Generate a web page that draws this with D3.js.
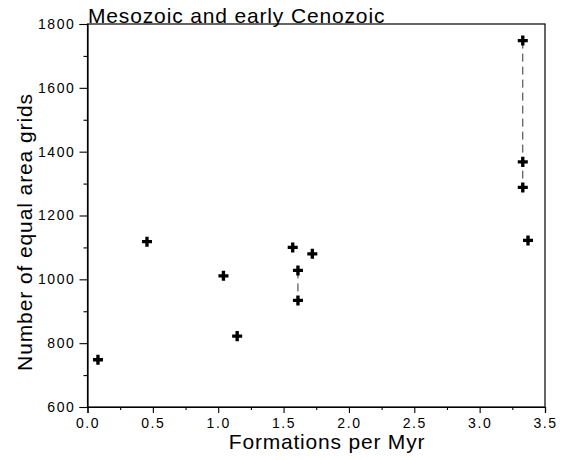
<!DOCTYPE html>
<html>
<head>
<meta charset="utf-8">
<script src="https://cdn.jsdelivr.net/npm/d3@7"></script>
<style>
  html, body { margin: 0; padding: 0; background: #fff; }
  svg { display: block; }
  text { font-family: "Liberation Sans", Arial, Helvetica, sans-serif; fill: #000; }
</style>
</head>
<body>
<svg id="chart" width="564" height="460"></svg>
<script>
// ---- data ----
const formationsPerMyr = [0.08, 0.455, 1.04, 1.145, 1.57, 1.61, 1.61, 1.72, 3.33, 3.33, 3.33, 3.37];
const equalAreaGrids   = [748, 1118, 1011, 822, 1100, 1028, 934, 1080, 1748, 1368, 1288, 1122];
// vertical ranges connecting points from the same interval
const rangeX    = [1.61, 3.33];
const rangeLow  = [934, 1288];
const rangeHigh = [1028, 1748];
const xTickValues = [0, 0.5, 1, 1.5, 2, 2.5, 3, 3.5];
const yTickValues = [600, 800, 1000, 1200, 1400, 1600, 1800];
const xMinorTicks = [0.25, 0.75, 1.25, 1.75, 2.25, 2.75, 3.25];
const yMinorTicks = [700, 900, 1100, 1300, 1500, 1700];
const chartTitle = "Mesozoic and early Cenozoic";
const xTitle = "Formations per Myr";
const yTitle = "Number of equal area grids";

// ---- layout ----
const mLeft = 87.5, mRight = 545, mTop = 24, mBottom = 407;
const svg = d3.select("#chart");
const x = d3.scaleLinear().domain([0, 3.5]).range([mLeft, mRight]);
const y = d3.scaleLinear().domain([600, 1800]).range([mBottom, mTop]);

// frame
svg.append("rect")
  .attr("x", mLeft).attr("y", mTop)
  .attr("width", mRight - mLeft).attr("height", mBottom - mTop)
  .attr("fill", "none").attr("stroke", "#000").attr("stroke-width", 1.2);

// x axis
svg.append("g").attr("transform", `translate(0,${mBottom})`)
  .call(d3.axisBottom(x).tickValues(xTickValues).tickFormat(d3.format(".1f")).tickSize(6).tickPadding(5));
svg.append("g").attr("transform", `translate(0,${mBottom})`)
  .call(d3.axisBottom(x).tickValues(xMinorTicks).tickFormat("").tickSize(3))
  .select(".domain").remove();

// y axis
svg.append("g").attr("transform", `translate(${mLeft},0)`)
  .call(d3.axisLeft(y).tickValues(yTickValues).tickFormat(d3.format("d")).tickSize(8).tickPadding(4));
svg.append("g").attr("transform", `translate(${mLeft},0)`)
  .call(d3.axisLeft(y).tickValues(yMinorTicks).tickFormat("").tickSize(4))
  .select(".domain").remove();

svg.selectAll(".domain").attr("stroke-width", 1.2);
svg.selectAll(".tick line").attr("stroke", "#000").attr("stroke-width", 1.1);
svg.selectAll(".tick text")
  .style("font-size", "14px")
  .style("letter-spacing", "1.6px")
  .style("font-family", "'Liberation Sans', Arial, sans-serif");

// range lines
svg.append("g").selectAll("line").data(rangeX).join("line")
  .attr("x1", d => x(d)).attr("x2", d => x(d))
  .attr("y1", (d, i) => y(rangeHigh[i])).attr("y2", (d, i) => y(rangeLow[i]))
  .attr("stroke", "#333").attr("stroke-width", 1)
  .attr("stroke-dasharray", "8,5");

// points
const sym = d3.symbol().type(d3.symbolCross).size(56);
svg.append("g").selectAll("path").data(formationsPerMyr).join("path")
  .attr("transform", (d, i) => `translate(${x(d)},${y(equalAreaGrids[i])})`)
  .attr("d", sym)
  .attr("fill", "#000");

// titles
svg.append("text").attr("x", 88).attr("y", 22.5)
  .style("font-size", "21px").style("letter-spacing", "0.85px")
  .text(chartTitle);

svg.append("text").attr("x", 327).attr("y", 449)
  .attr("text-anchor", "middle")
  .style("font-size", "21px").style("letter-spacing", "0.8px")
  .text(xTitle);

svg.append("text")
  .attr("transform", `translate(32,232) rotate(-90)`)
  .attr("text-anchor", "middle")
  .style("font-size", "21px").style("letter-spacing", "0.9px")
  .text(yTitle);
</script>
</body>
</html>
